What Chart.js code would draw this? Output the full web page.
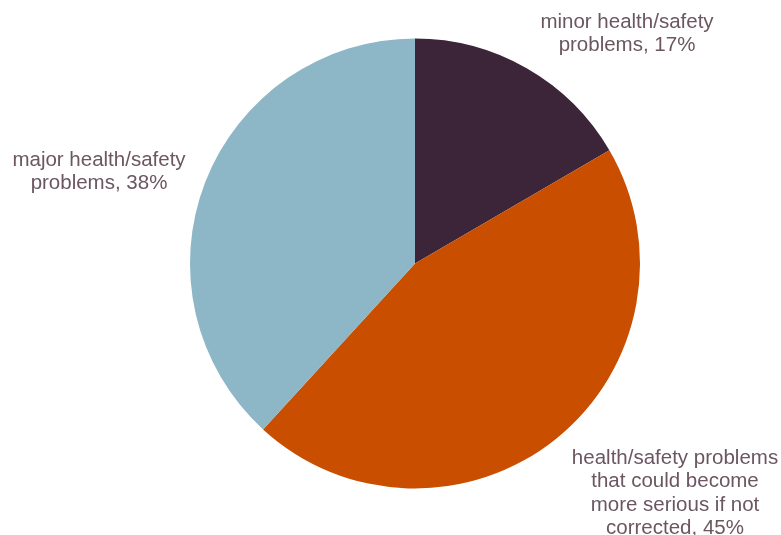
<!DOCTYPE html>
<html>
<head>
<meta charset="utf-8">
<script src="https://cdn.jsdelivr.net/npm/chart.js@4/dist/chart.umd.min.js"></script>
<style>
  html, body { margin: 0; padding: 0; background: #fff; }
  #wrap { width: 781px; height: 535px; }
</style>
</head>
<body>
<div id="wrap"><canvas id="chart-pie" width="781" height="535"></canvas></div>
<script>
var categorias = ['minor health/safety problems', 'health/safety problems that could become more serious if not corrected', 'major health/safety problems'];
// shares as measured off the slices (labels show them rounded)
var valores = [16.6, 45.2, 38.2];
var colores = ['#3D2539', '#C94E00', '#8DB6C6'];
// text lines for each label, same order as categorias
var etiquetas = [
  ['minor health/safety', 'problems, 17%'],
  ['health/safety problems', 'that could become', 'more serious if not', 'corrected, 45%'],
  ['major health/safety', 'problems, 38%']
];

// label centres (first line), relative to the pie centre
var posEtiquetas = [[212, -241], [260, 195], [-316, -103]];

var pluginEtiquetas = {
  id: 'etiquetas',
  afterDraw: function(chart) {
    var ctx = chart.ctx;
    var arco = chart.getDatasetMeta(0).data[0];
    ctx.save();
    ctx.font = '20.5px "Liberation Sans", Arial, sans-serif';
    ctx.fillStyle = '#6B5661';
    ctx.textAlign = 'center';
    ctx.textBaseline = 'middle';
    etiquetas.forEach(function(lineas, i) {
      var x = arco.x + posEtiquetas[i][0];
      var y = arco.y + posEtiquetas[i][1];
      lineas.forEach(function(l, j) {
        ctx.fillText(l, x, y + j * 23.2);
      });
    });
    ctx.restore();
  }
};

new Chart(document.getElementById('chart-pie'), {
  type: 'pie',
  data: {
    labels: categorias,
    datasets: [{
      data: valores,
      backgroundColor: colores,
      borderWidth: 0
    }]
  },
  options: {
    responsive: false,
    animation: false,
    layout: { padding: { left: 190, right: 141, top: 38, bottom: 46 } },
    plugins: {
      legend: { display: false },
      tooltip: { enabled: false }
    }
  },
  plugins: [pluginEtiquetas]
});
</script>
</body>
</html>
